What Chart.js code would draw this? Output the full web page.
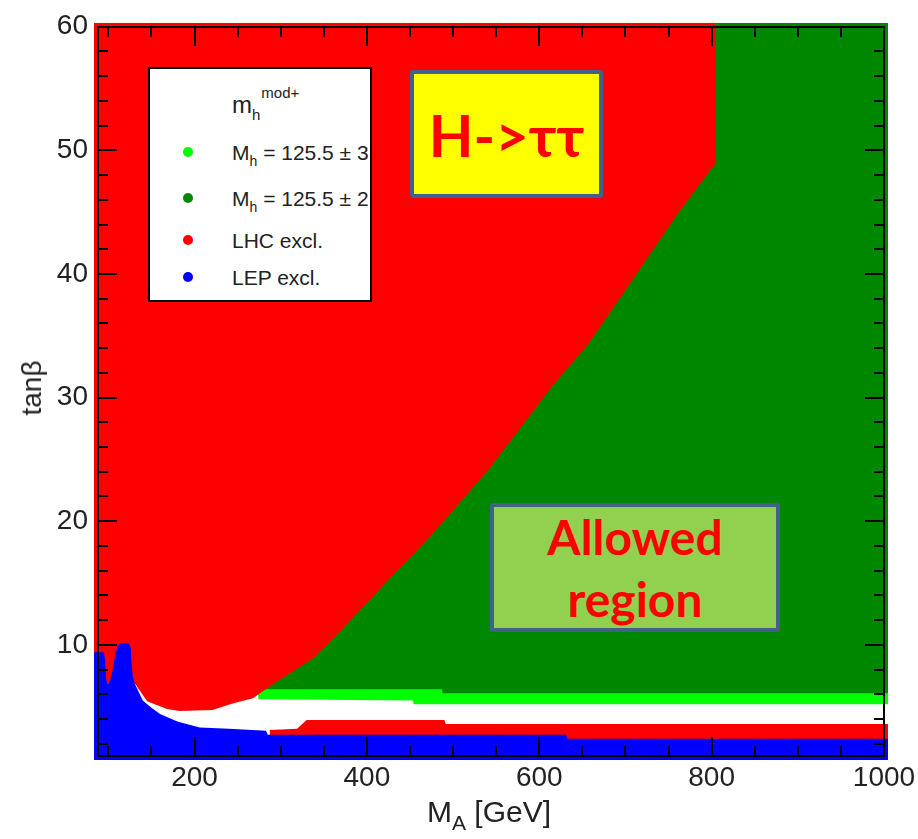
<!DOCTYPE html>
<html>
<head>
<meta charset="utf-8">
<title>tanβ vs M_A – m_h^mod+ scenario</title>
<script src="https://cdn.jsdelivr.net/npm/chart.js@4.4.1/dist/chart.umd.min.js"></script>
<style>
  body { margin: 0; background: #fff; }
  #wrap { position: relative; width: 918px; height: 839px; font-family: "Liberation Sans", Arial, sans-serif; color: #000; }
  #chart { position: absolute; left: 0; top: 0; }
  .legend { position: absolute; left: 148px; top: 67px; width: 224px; height: 235px; box-sizing: border-box;
            background: #fff; border: 2px solid #000; }
  .legend .item { position: absolute; left: 82px; font-size: 21px; line-height: 1; transform: translateY(-50%); white-space: nowrap; color: #222; }
  .legend .dot { position: absolute; left: 33px; width: 10px; height: 10px; border-radius: 50%; transform: translateY(-50%); }
  .legend sub { font-size: 14px; vertical-align: baseline; position: relative; top: 6px; }
  .legend .head { position: absolute; left: 82px; top: 24px; font-size: 24px; line-height: 1; color: #222; }
  .legend .head sup { font-size: 15px; vertical-align: baseline; position: relative; top: -15px; left: 1px; }
  .legend .head sub { font-size: 15px; top: 7px; }
  .note { position: absolute; box-sizing: border-box; border: 4px solid #41618c; border-radius: 3px;
          display: flex; align-items: center; justify-content: center; text-align: center;
          color: #ff0000; font-family: Lato, "Open Sans", sans-serif; font-weight: bold; }
  #htt { left: 410px; top: 70px; width: 193px; height: 128px; background: #ffff00; font-size: 58px; }
  #allowed { left: 490px; top: 503px; width: 290px; height: 129px; background: #92d050; font-size: 48px; line-height: 62px; }
  .xtitle { position: absolute; left: 427px; top: 797px; font-size: 30px; line-height: 29px; white-space: nowrap; color: #222; }
  .xtitle sub { font-size: 21px; vertical-align: baseline; position: relative; top: 8px; }
  .ytitle { position: absolute; left: 32px; top: 388px; font-size: 28px; line-height: 1; white-space: nowrap; color: #222;
            transform: translate(-50%, -50%) rotate(-90deg); }
</style>
</head>
<body>
<div id="wrap">
  <canvas id="chart" width="918" height="839"></canvas>
  <div class="legend" id="legend">
    <div class="head">m<sub>h</sub><sup>mod+</sup></div>
  </div>
  <div class="note" id="htt">H-&gt;ττ</div>
  <div class="note" id="allowed">Allowed<br>region</div>
  <div class="xtitle">M<sub>A</sub> [GeV]</div>
  <div class="ytitle">tanβ</div>
</div>
<script>
// Frame ranges; the scan is drawn a little past the frame, so the scales run slightly wider.
const xFrame = [88, 1000];
const yFrame = [1, 60];
const xScaleRange = [83.36, 1004.64];
const yScaleRange = [0.68, 60.32];
const xTickLabels = [200, 400, 600, 800, 1000];
const yTickLabels = [10, 20, 30, 40, 50, 60];

// Boundaries of the regions in the (M_A, tanβ) plane, as [M_A, tanβ] pairs.
// Lower edge of the LHC exclusion (everything above it is excluded, up to the top).
const lhcUpperEdge = [
  [83, 6.8], [126, 6.9], [127.5, 7.2], [145, 5.44], [168, 4.8], [183, 4.64], [221, 4.72],
  [245, 5.28], [268, 5.68], [276, 6.08], [291, 6.8], [337.5, 8.9], [365, 10.8], [415, 14.5],
  [475.5, 18.9], [540.5, 24.1], [616, 31.0], [655.5, 34.2], [709, 39.6], [761, 44.9],
  [804, 48.9], [805, 60.4]
];
// Top of the low-tanβ LHC exclusion strip.
const lhcLowerStrip = [
  [287, 3.1], [319, 3.2], [330, 3.92], [490, 3.92], [491.5, 3.6], [1005, 3.6]
];
// Top of the LEP exclusion.
const lepEdge = [
  [83, 9.4], [95, 9.4], [96.5, 8.6], [97.5, 7.2], [99.5, 6.8], [101.5, 7.0], [104, 7.6],
  [106, 8.3], [108, 9.3], [111, 9.9], [113, 10.1], [124, 10.1], [126, 9.7], [127, 8.5],
  [128.5, 7.4], [131, 6.8], [140, 5.5], [150, 4.9], [160, 4.4], [180, 3.8], [206, 3.3],
  [240, 3.2], [283, 3.04], [285, 2.72], [631, 2.72], [633, 2.4], [1005, 2.4]
];
// Top of the Mh = 125.5 ± 3 band and of the region below it (no Higgs mass match).
const mh3Edge = [[270, 6.4], [487, 6.4], [488, 6.08], [1005, 6.08]];
const noMatchEdge = [[83, 10.5], [272, 10.5], [274, 5.6], [453, 5.5], [454.5, 5.2], [1005, 5.2]];
// Mh = 125.5 ± 2 covers the whole plane underneath the other layers.
const mh2Edge = [[83, 0.6], [1005, 0.6]];

// Legend entries
const legendLabels = ['M<sub>h</sub> = 125.5 ± 3', 'M<sub>h</sub> = 125.5 ± 2', 'LHC excl.', 'LEP excl.'];
const legendRows = [83, 129, 171, 208];

const colors = {
  mh3: '#00ff00',
  mh2: '#008700',
  lhc: '#ff0000',
  lep: '#0000ff',
  none: '#ffffff'
};

const toPoints = arr => arr.map(([x, y]) => ({ x, y }));

function region(data, fill, color, order) {
  return {
    data: toPoints(data),
    fill: fill,
    backgroundColor: color,
    borderWidth: 0,
    pointRadius: 0,
    tension: 0,
    order: order
  };
}

// Frame with inward-pointing ticks on all four sides.
const frameTicks = {
  id: 'frameTicks',
  afterDatasetsDraw(chart) {
    const { ctx, scales: { x, y } } = chart;
    const left = Math.round(x.getPixelForValue(xFrame[0]));
    const right = Math.round(x.getPixelForValue(xFrame[1]));
    const top = Math.round(y.getPixelForValue(yFrame[1]));
    const bottom = Math.round(y.getPixelForValue(yFrame[0]));
    ctx.save();
    ctx.strokeStyle = '#000';
    ctx.lineWidth = 2;
    ctx.beginPath();
    for (let v = 100; v <= xFrame[1]; v += 50) {
      const px = Math.round(x.getPixelForValue(v));
      const len = v % 200 === 0 ? 19 : 10;
      ctx.moveTo(px, bottom); ctx.lineTo(px, bottom - len);
      ctx.moveTo(px, top); ctx.lineTo(px, top + len);
    }
    for (let v = 2; v <= yFrame[1]; v += 2) {
      const py = Math.round(y.getPixelForValue(v));
      const len = v % 10 === 0 ? 19 : 10;
      ctx.moveTo(left, py); ctx.lineTo(left + len, py);
      ctx.moveTo(right, py); ctx.lineTo(right - len, py);
    }
    ctx.stroke();
    ctx.strokeRect(left, top, right - left, bottom - top);
    ctx.restore();
  }
};

const tickFont = { family: 'Liberation Sans', size: 28 };

new Chart(document.getElementById('chart'), {
  type: 'line',
  data: {
    datasets: [
      region(mh2Edge, 'end', colors.mh2, 6),
      region(mh3Edge, 'start', colors.mh3, 5),
      region(noMatchEdge, 'start', colors.none, 4),
      region(lhcUpperEdge, 'end', colors.lhc, 3),
      region(lhcLowerStrip, 'start', colors.lhc, 2),
      region(lepEdge, 'start', colors.lep, 1)
    ]
  },
  options: {
    responsive: false,
    animation: false,
    events: [],
    layout: { padding: { left: 0, top: 14, right: 30, bottom: 0 } },
    plugins: { legend: { display: false }, tooltip: { enabled: false } },
    scales: {
      x: {
        type: 'linear',
        min: xScaleRange[0],
        max: xScaleRange[1],
        grid: { display: false, drawTicks: false },
        border: { display: false },
        afterBuildTicks: s => { s.ticks = xTickLabels.map(v => ({ value: v })); },
        afterFit: s => { s.height = 79; },
        ticks: { color: '#222', padding: 1, maxRotation: 0, font: tickFont, callback: v => String(v) }
      },
      y: {
        type: 'linear',
        min: yScaleRange[0],
        max: yScaleRange[1],
        grid: { display: false, drawTicks: false },
        border: { display: false },
        afterBuildTicks: s => { s.ticks = yTickLabels.map(v => ({ value: v })); },
        afterFit: s => { s.width = 94; },
        ticks: { color: '#222', padding: 6, font: tickFont, callback: v => String(v) }
      }
    }
  },
  plugins: [frameTicks]
});

// Legend box inside the frame
const legend = document.getElementById('legend');
const legendColors = [colors.mh3, colors.mh2, colors.lhc, colors.lep];
legendLabels.forEach((label, i) => {
  const dot = document.createElement('div');
  dot.className = 'dot';
  dot.style.top = legendRows[i] + 'px';
  dot.style.background = legendColors[i];
  const item = document.createElement('div');
  item.className = 'item';
  item.style.top = legendRows[i] + 'px';
  item.innerHTML = label;
  legend.appendChild(dot);
  legend.appendChild(item);
});
</script>
</body>
</html>
